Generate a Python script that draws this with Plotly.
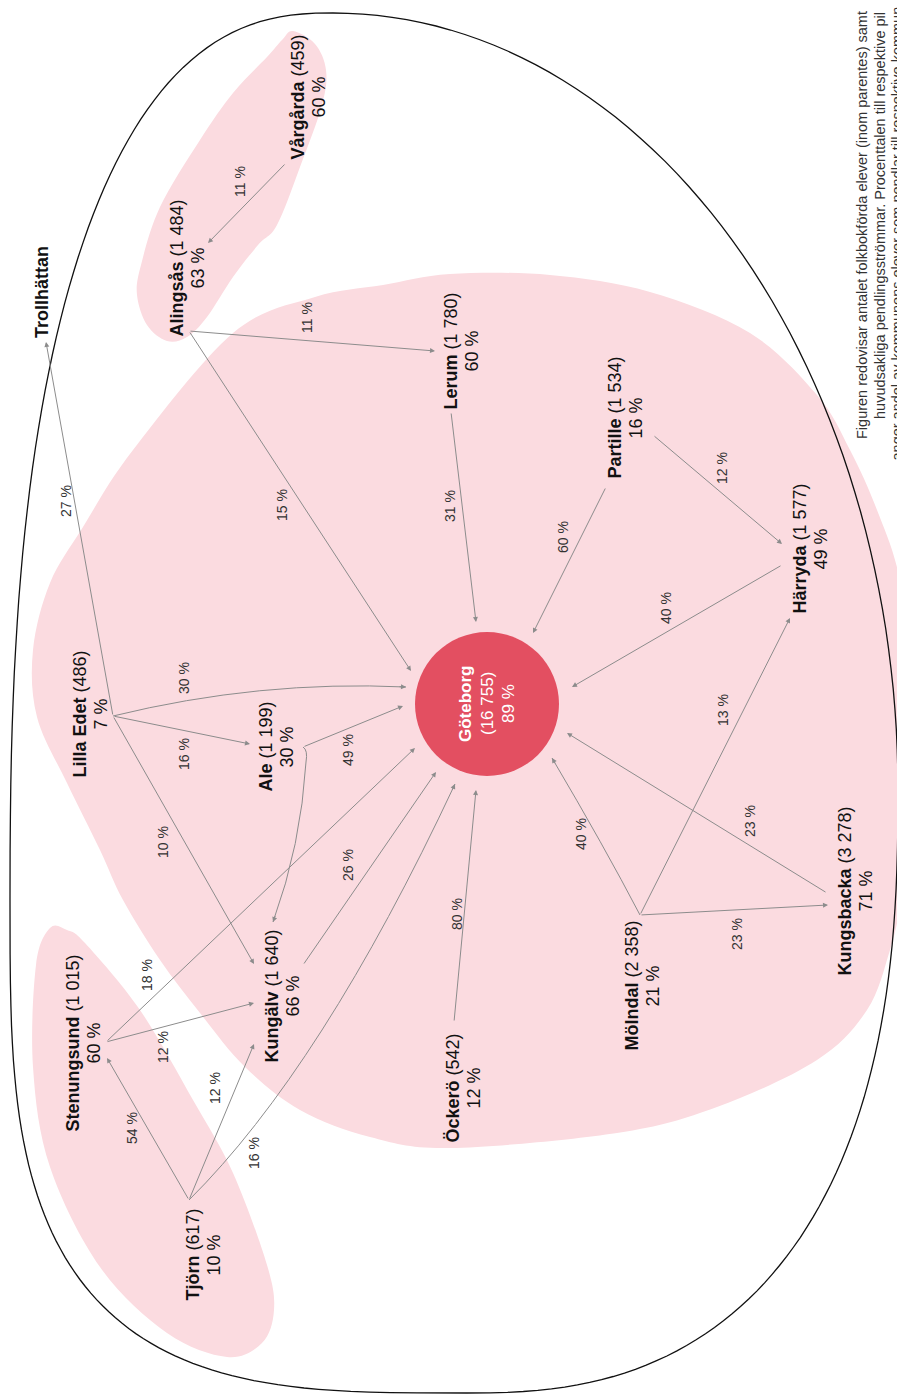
import math
import plotly.graph_objects as go

# ---------------- data ----------------
names = ["Göteborg", "Vårgårda", "Alingsås", "Trollhättan", "Lerum", "Partille", "Härryda",
         "Lilla Edet", "Ale", "Kungälv", "Stenungsund", "Tjörn", "Öckerö", "Mölndal", "Kungsbacka"]
students = [16755, 459, 1484, None, 1780, 1534, 1577, 486, 1199, 1640, 1015, 617, 542, 2358, 3278]
share_pct = [89, 60, 63, None, 60, 16, 49, 7, 30, 66, 60, 10, 12, 21, 71]

flow_from = ["Vårgårda", "Alingsås", "Alingsås", "Lerum", "Partille", "Partille", "Härryda",
             "Lilla Edet", "Lilla Edet", "Lilla Edet", "Lilla Edet", "Ale", "Ale",
             "Stenungsund", "Stenungsund", "Kungälv", "Tjörn", "Tjörn", "Tjörn",
             "Öckerö", "Mölndal", "Mölndal", "Mölndal", "Kungsbacka"]
flow_to = ["Alingsås", "Lerum", "Göteborg", "Göteborg", "Göteborg", "Härryda", "Göteborg",
           "Trollhättan", "Göteborg", "Ale", "Kungälv", "Göteborg", "Kungälv",
           "Göteborg", "Kungälv", "Göteborg", "Stenungsund", "Kungälv", "Göteborg",
           "Göteborg", "Göteborg", "Härryda", "Kungsbacka", "Göteborg"]
flow_pct = [11, 11, 15, 31, 60, 12, 40,
            27, 30, 16, 10, 49, None,
            18, 12, 26, 54, 12, 16,
            80, 40, 13, 23, 23]

caption_lines = [
    "Figuren redovisar antalet folkbokförda elever (inom parentes) samt",
    "huvudsakliga pendlingsströmmar. Procenttalen till respektive pil",
    "anger andel av kommunens elever som pendlar till respektive kommun.",
]

# ---------------- layout geometry (pixel space of the drawing) ----------------
W, H = 897, 1395
node_center = {
    "Vårgårda": (308, 97), "Alingsås": (187, 268), "Trollhättan": (42, 292),
    "Lerum": (461, 351), "Partille": (625, 418), "Härryda": (810, 549),
    "Lilla Edet": (90, 714), "Ale": (276, 747), "Kungälv": (282, 996),
    "Stenungsund": (83, 1043), "Tjörn": (203, 1255), "Öckerö": (463, 1088),
    "Mölndal": (642, 986), "Kungsbacka": (855, 891), "Göteborg": (487, 704),
}
hub_radius = 72
# per flow: tail, head, optional quadratic control(s), label position
flow_geom = [
    ((286, 163), (208, 243), None, (240, 182)),
    ((189, 331), (435, 351), None, (307, 318)),
    ((189, 331), (411, 671), None, (282, 505)),
    ((451, 412), (476, 622), None, (450, 506)),
    ((606, 487), (533, 633), None, (563, 537)),
    ((653, 435), (782, 544), None, (722, 468)),
    ((782, 565), (572, 687), None, (666, 608)),
    ((113, 716), (46, 342), None, (66, 501)),
    ((113, 716), (406, 687), [(260, 680)], (184, 678)),
    ((113, 716), (250, 744), None, (184, 754)),
    ((113, 716), (254, 964), None, (163, 842)),
    ((303, 747), (403, 706), None, (348, 750)),
    ((303, 747), (273, 922), [(308, 750), (306, 762), (301, 845)], None),
    ((106, 1042), (415, 748), None, (147, 975)),
    ((106, 1042), (254, 1003), None, (163, 1047)),
    ((303, 965), (436, 772), None, (348, 865)),
    ((189, 1200), (107, 1058), None, (132, 1128)),
    ((189, 1200), (254, 1044), None, (215, 1088)),
    ((189, 1200), (455, 784), [(322, 1068)], (254, 1153)),
    ((454, 1022), (476, 790), None, (457, 914)),
    ((640, 915), (552, 758), [(604, 846)], (581, 834)),
    ((640, 915), (790, 618), None, (723, 710)),
    ((640, 915), (828, 905), None, (737, 934)),
    ((827, 893), (567, 733), None, (750, 821)),
]

# outer boundary: four superelliptic quarters (centre x, centre y, a, b, exponent, sx, sy)
outline_quarters = [
    (333, 790, 565, 777, 2.0, 1, -1),
    (467, 790, 431, 603, 2.5, 1, 1),
    (467, 900, 457, 493, 3.3, -1, 1),
    (333, 900, 323, 887, 2.5, -1, -1),
]
big_blob = [(383, 285), (450, 274), (550, 275), (650, 292), (750, 333), (817, 395), (850, 450),
            (877, 510), (900, 580), (918, 700), (918, 820), (902, 900), (890, 950), (867, 1010),
            (817, 1060), (717, 1107), (617, 1133), (450, 1148), (370, 1137), (300, 1110),
            (245, 1067), (200, 1013), (160, 960), (123, 900), (100, 850), (67, 783), (37, 717),
            (33, 650), (50, 583), (83, 527), (133, 450), (233, 333), (315, 297)]
blob_north = [(293, 31), (315, 44), (326, 70), (322, 105), (300, 167), (277, 225), (258, 245),
              (233, 277), (207, 317), (187, 337), (167, 341), (147, 325), (137, 295), (141, 265),
              (160, 207), (200, 140), (233, 93), (267, 57), (282, 40)]
blob_south = [(50, 928), (36, 965), (33, 1067), (50, 1167), (100, 1267), (167, 1333),
              (227, 1357), (262, 1343), (274, 1310), (267, 1265), (233, 1173), (193, 1100),
              (140, 1010), (85, 943), (67, 930)]

PINK = "#fbdbe0"
HUB = "#e34f61"
ARROW = "#8c8c8c"
FONT = "Liberation Sans, Arial, sans-serif"


def smooth_closed(pts):
    n = len(pts)
    d = f"M{pts[0][0]},{pts[0][1]}"
    for i in range(n):
        p0, p1, p2, p3 = pts[(i - 1) % n], pts[i], pts[(i + 1) % n], pts[(i + 2) % n]
        c1 = (p1[0] + (p2[0] - p0[0]) / 6, p1[1] + (p2[1] - p0[1]) / 6)
        c2 = (p2[0] - (p3[0] - p1[0]) / 6, p2[1] - (p3[1] - p1[1]) / 6)
        d += f" C{c1[0]:.1f},{c1[1]:.1f} {c2[0]:.1f},{c2[1]:.1f} {p2[0]},{p2[1]}"
    return d + " Z"


def superellipse_path(quarters, steps=60):
    pts = []
    for (cx, cy, a, b, n, sx, sy) in quarters:
        q = []
        for i in range(steps + 1):
            t = (math.pi / 2) * i / steps
            x = cx + sx * a * (math.cos(t) ** (2 / n))
            y = cy + sy * b * (math.sin(t) ** (2 / n))
            q.append((x, y))
        if (sx, sy) in [(1, -1), (-1, 1)]:
            q = q[::-1]
        pts.extend(q)
    return "M" + " L".join(f"{x:.1f},{y:.1f}" for x, y in pts) + " Z"


def fmt(n):
    return f"{n:,}".replace(",", " ")


fig = go.Figure()
shapes = []
annotations = []

for blob in (big_blob, blob_north, blob_south):
    shapes.append(dict(type="path", path=smooth_closed(blob), xref="x", yref="y",
                       line=dict(width=0), fillcolor=PINK, layer="below"))
shapes.append(dict(type="path", path=superellipse_path(outline_quarters), xref="x", yref="y",
                   line=dict(color="#111111", width=1.3), fillcolor="rgba(0,0,0,0)", layer="below"))

# flows
for (tail, head, ctrl, lab), pct in zip(flow_geom, flow_pct):
    if ctrl:
        if len(ctrl) == 1:
            path = f"M{tail[0]},{tail[1]} Q{ctrl[0][0]},{ctrl[0][1]} {head[0]},{head[1]}"
            last = ctrl[0]
        else:
            path = (f"M{tail[0]},{tail[1]} Q{ctrl[0][0]},{ctrl[0][1]} {ctrl[1][0]},{ctrl[1][1]}"
                    f" Q{ctrl[2][0]},{ctrl[2][1]} {head[0]},{head[1]}")
            last = ctrl[2]
        shapes.append(dict(type="path", path=path, xref="x", yref="y",
                           line=dict(color=ARROW, width=1)))
        dx, dy = head[0] - last[0], head[1] - last[1]
        ln = (dx ** 2 + dy ** 2) ** 0.5
        t0 = (head[0] - dx / ln * 8, head[1] - dy / ln * 8)
    else:
        t0 = tail
    annotations.append(dict(x=head[0], y=head[1], ax=t0[0], ay=t0[1], xref="x", yref="y",
                            axref="x", ayref="y", text="", showarrow=True, arrowhead=2,
                            arrowsize=1, arrowwidth=1, arrowcolor=ARROW, standoff=0))
    if pct is not None and lab is not None:
        annotations.append(dict(x=lab[0], y=lab[1], xref="x", yref="y", text=f"{pct} %",
                                textangle=-90, showarrow=False, xanchor="center", yanchor="middle",
                                font=dict(family=FONT, size=14, color="#333333")))

# hub circle
gx, gy = node_center["Göteborg"]
shapes.append(dict(type="circle", xref="x", yref="y", x0=gx - hub_radius, x1=gx + hub_radius,
                   y0=gy - hub_radius, y1=gy + hub_radius, fillcolor=HUB, line=dict(width=0)))

# node labels
NODE_SIZE = 18
for name, n, p in zip(names, students, share_pct):
    cx, cy = node_center[name]
    if name == "Göteborg":
        lines = [f"<b>{name}</b>", f"({fmt(n)})", f"{p} %"]
        offs = [-22, 0, 21]
        for t, o in zip(lines, offs):
            annotations.append(dict(x=cx + o, y=cy, xref="x", yref="y", text=t, textangle=-90,
                                    showarrow=False, xanchor="center", yanchor="middle",
                                    font=dict(family=FONT, size=17, color="white")))
        continue
    if n is None:
        annotations.append(dict(x=cx, y=cy, xref="x", yref="y", text=f"<b>{name}</b>",
                                textangle=-90, showarrow=False, xanchor="center", yanchor="middle",
                                font=dict(family=FONT, size=NODE_SIZE, color="#111111")))
        continue
    annotations.append(dict(x=cx - 10.5, y=cy, xref="x", yref="y",
                            text=f"<b>{name}</b> ({fmt(n)})", textangle=-90, showarrow=False,
                            xanchor="center", yanchor="middle",
                            font=dict(family=FONT, size=NODE_SIZE, color="#111111")))
    annotations.append(dict(x=cx + 10.5, y=cy, xref="x", yref="y", text=f"{p} %",
                            textangle=-90, showarrow=False, xanchor="center", yanchor="middle",
                            font=dict(family=FONT, size=NODE_SIZE, color="#111111")))

# caption (third line runs off the right edge, as in the original)
cap_pos = [(862, 225), (880, 216), (896.5, 232)]
for t, (cx, cy) in zip(caption_lines, cap_pos):
    annotations.append(dict(x=cx, y=cy, xref="x", yref="y", text=t, textangle=-90,
                            showarrow=False, xanchor="center", yanchor="middle",
                            font=dict(family=FONT, size=14.5, color="#333333")))

fig.update_layout(
    width=W, height=H, margin=dict(l=0, r=0, t=0, b=0),
    paper_bgcolor="white", plot_bgcolor="white", showlegend=False,
    xaxis=dict(range=[0, W], visible=False, fixedrange=True),
    yaxis=dict(range=[H, 0], visible=False, fixedrange=True),
    shapes=shapes, annotations=annotations,
)

fig.write_html("out.html", config={"displayModeBar": False},
               post_script="document.body.style.margin='0';")
